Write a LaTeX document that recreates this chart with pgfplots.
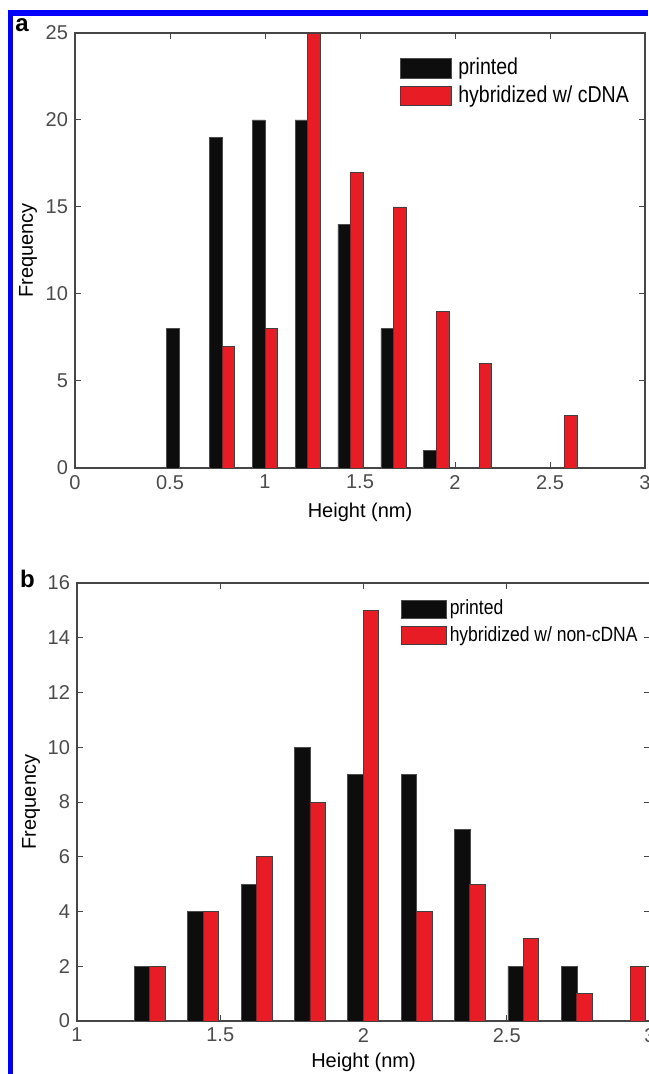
\documentclass[border=0pt]{standalone}
\usepackage{pgfplots}
\pgfplotsset{compat=1.18}
\usepackage{fontspec}
\setmainfont{Liberation Sans}
\newfontfamily\condfont{Liberation Sans}[FakeStretch=0.85]
\definecolor{barred}{RGB}{232,28,36}
\definecolor{axisgray}{RGB}{70,70,70}
\definecolor{tickgray}{RGB}{75,75,75}
\definecolor{frameblue}{RGB}{0,0,255}
\pgfplotsset{
  legA/.style={legend image code/.code={\draw[##1] (0pt,-4.75pt) rectangle (25.5pt,5pt);}},
  legB/.style={legend image code/.code={\draw[##1] (0pt,-4.5pt) rectangle (22.5pt,4.5pt);}},
  matlab/.style={
    scale only axis,
    anchor=north west,
    axis line style={draw=axisgray, line width=0.6pt},
    tick align=inside,
    tick pos=both,
    major tick length=3pt,
    every tick/.style={draw=axisgray, line width=0.5pt},
    /pgf/number format/assume math mode=true,
    tick label style={font=\fontsize{10}{11}\selectfont, text=tickgray},
    xlabel style={font=\fontsize{11.5}{12}\selectfont},
    ylabel style={font=\fontsize{11.5}{12}\selectfont},
    legend cell align=left,
  },
}
\begin{document}
\begin{tikzpicture}
\path[use as bounding box] (0,0) rectangle (324pt,-537pt);
\fill[frameblue] (4pt,-5pt) rectangle (6.5pt,-537pt);
\fill[frameblue] (4pt,-5pt) rectangle (324pt,-8pt);
\node[font=\bfseries\fontsize{12}{12}\selectfont] at (11pt,-12.5pt) {a};
\node[font=\bfseries\fontsize{12}{12}\selectfont] at (13.75pt,-289.5pt) {b};

% Panel a
\begin{axis}[matlab,
  at={(37.5pt,-16.5pt)},
  width=285pt, height=217.5pt,
  xmin=0, xmax=3, ymin=0, ymax=25,
  xtick={0,0.5,1,1.5,2,2.5,3},
  ytick={0,5,10,15,20,25},
  xlabel={Height (nm)},
  ylabel={Frequency},
  every axis x label/.style={at={(axis description cs:0.5,0)}, anchor=center, yshift=-22pt},
  every axis y label/.style={at={(axis description cs:-0.0825,0.5)}, rotate=90, anchor=center},
  legend style={at={(rel axis cs:0.570,0.947)}, anchor=north west, draw=none, fill=none,
    inner sep=0pt, font=\condfont\fontsize{11.5}{12}\selectfont, row sep=1.5pt,
    nodes={inner sep=0.6pt, text height=8.5pt, text depth=2.5pt},
    /tikz/every odd column/.append style={column sep=2.5pt}},
]
\addplot[ybar, bar shift=0pt, bar width=0.066, fill=black!95, draw=black!70, line width=0.4pt, legA]
  coordinates {(0.515,8) (0.742,19) (0.967,20) (1.192,20) (1.417,14) (1.643,8) (1.868,1)};
\addlegendentry{printed}
\addplot[ybar, bar shift=0pt, bar width=0.066, fill=barred, draw=black!75, line width=0.4pt, legA]
  coordinates {(0.808,7) (1.033,8) (1.258,25) (1.484,17) (1.709,15) (1.935,9) (2.160,6) (2.611,3)};
\addlegendentry{hybridized w/ cDNA}
\end{axis}

% Panel b
\begin{axis}[matlab,
  at={(38.5pt,-291.5pt)},
  width=286.5pt, height=219pt,
  xmin=1, xmax=3, ymin=0, ymax=16,
  xtick={1,1.5,2,2.5,3},
  ytick={0,2,4,6,8,10,12,14,16},
  xlabel={Height (nm)},
  ylabel={Frequency},
  every axis x label/.style={at={(axis description cs:0.5,0)}, anchor=center, yshift=-20.5pt},
  every axis y label/.style={at={(axis description cs:-0.080,0.5)}, rotate=90, anchor=center},
  legend style={at={(rel axis cs:0.565,0.968)}, anchor=north west, draw=none, fill=none,
    inner sep=0pt, font=\condfont\fontsize{10.3}{11}\selectfont, row sep=1.5pt,
    nodes={inner sep=0.6pt, text height=8pt, text depth=2.5pt},
    /tikz/every odd column/.append style={column sep=0.8pt}},
]
\addplot[ybar, bar shift=0pt, bar width=0.054, fill=black!95, draw=black!70, line width=0.4pt, legB]
  coordinates {(1.227,2) (1.413,4) (1.600,5) (1.787,10) (1.972,9) (2.158,9) (2.345,7) (2.531,2) (2.718,2)};
\addlegendentry{printed}
\addplot[ybar, bar shift=0pt, bar width=0.054, fill=barred, draw=black!75, line width=0.4pt, legB]
  coordinates {(1.281,2) (1.467,4) (1.654,6) (1.840,8) (2.026,15) (2.212,4) (2.398,5) (2.585,3) (2.771,1) (2.958,2)};
\addlegendentry{hybridized w/ non-cDNA}
\end{axis}
\end{tikzpicture}
\end{document}
